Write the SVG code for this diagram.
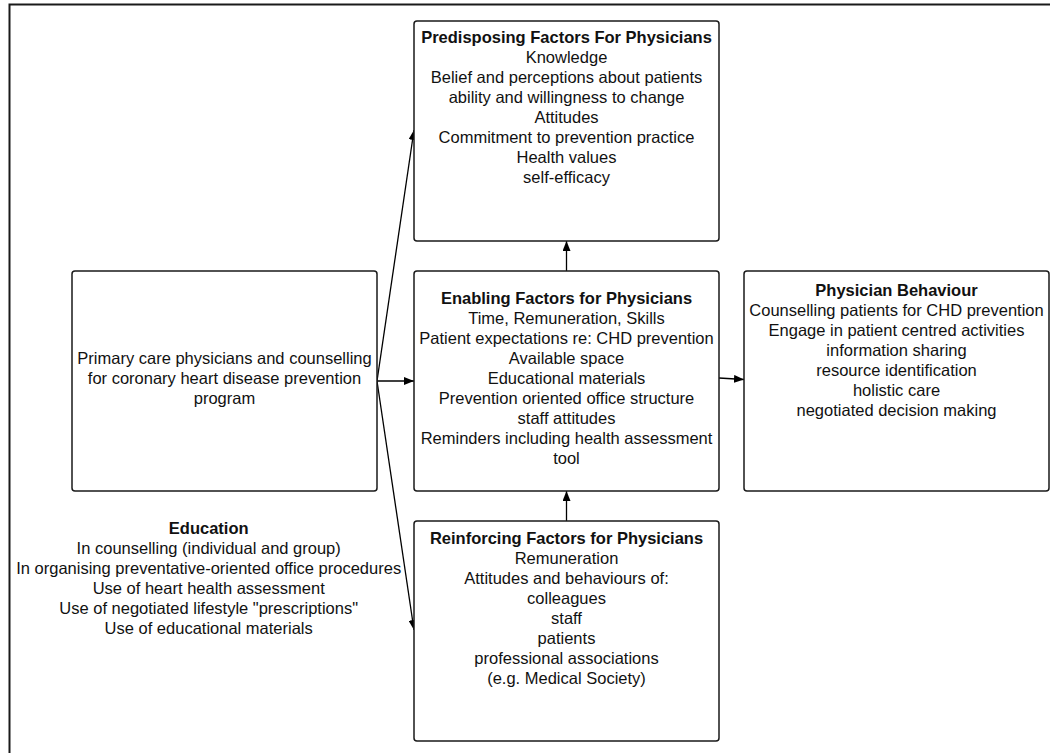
<svg xmlns="http://www.w3.org/2000/svg" width="1050" height="753" viewBox="0 0 1050 753">
  <style>
    .box { fill: #ffffff; stroke: #1a1a1a; stroke-width: 1.5; }
    .frame { fill: none; stroke: #1a1a1a; stroke-width: 2; }
    .edge { fill: none; stroke: #000000; stroke-width: 1.3; }
    text { font-family: "Liberation Sans", Arial, sans-serif; font-size: 16.5px; fill: #111111; text-anchor: middle; }
    .title { font-weight: bold; }
  </style>
  <defs>
    <marker id="arrow" viewBox="0 0 10 8" refX="10" refY="4" markerWidth="10" markerHeight="8" markerUnits="userSpaceOnUse" orient="auto">
      <path d="M0,0 L10,4 L0,8 Z" fill="#000000"/>
    </marker>
  </defs>

  <rect width="1050" height="753" fill="#ffffff"/>

  <!-- page frame (open at right and bottom) -->
  <path class="frame" d="M9.5,753 L9.5,4.5 L1050,4.5"/>

  <!-- connectors -->
  <g id="connectors">
    <line class="edge" x1="377" y1="381" x2="414" y2="130" marker-end="url(#arrow)"/>
    <line class="edge" x1="377" y1="381" x2="414" y2="381" marker-end="url(#arrow)"/>
    <line class="edge" x1="377" y1="381" x2="414" y2="630" marker-end="url(#arrow)"/>
    <line class="edge" x1="719" y1="378" x2="744" y2="379.5" marker-end="url(#arrow)"/>
    <line class="edge" x1="566.5" y1="271" x2="566.5" y2="241" marker-end="url(#arrow)"/>
    <line class="edge" x1="566.5" y1="521" x2="566.5" y2="491" marker-end="url(#arrow)"/>
  </g>

  <g id="program">
    <rect class="box" x="72" y="271" width="305" height="220" rx="3"/>
    <text x="224.5" y="364">Primary care physicians and counselling</text>
    <text x="224.5" y="384">for coronary heart disease prevention</text>
    <text x="224.5" y="404">program</text>
  </g>

  <g id="predisposing">
    <rect class="box" x="414" y="21" width="305" height="220" rx="3"/>
    <text class="title" x="566.5" y="43">Predisposing Factors For Physicians</text>
    <text x="566.5" y="63">Knowledge</text>
    <text x="566.5" y="83">Belief and perceptions about patients</text>
    <text x="566.5" y="103">ability and willingness to change</text>
    <text x="566.5" y="123">Attitudes</text>
    <text x="566.5" y="143">Commitment to prevention practice</text>
    <text x="566.5" y="163">Health values</text>
    <text x="566.5" y="183">self-efficacy</text>
  </g>

  <g id="enabling">
    <rect class="box" x="414" y="271" width="305" height="220" rx="3"/>
    <text class="title" x="566.5" y="304">Enabling Factors for Physicians</text>
    <text x="566.5" y="324">Time, Remuneration, Skills</text>
    <text x="566.5" y="344">Patient expectations re: CHD prevention</text>
    <text x="566.5" y="364">Available space</text>
    <text x="566.5" y="384">Educational materials</text>
    <text x="566.5" y="404">Prevention oriented office structure</text>
    <text x="566.5" y="424">staff attitudes</text>
    <text x="566.5" y="444">Reminders including health assessment</text>
    <text x="566.5" y="464">tool</text>
  </g>

  <g id="behaviour">
    <rect class="box" x="744" y="271" width="305" height="220" rx="3"/>
    <text class="title" x="896.5" y="296">Physician Behaviour</text>
    <text x="896.5" y="316">Counselling patients for CHD prevention</text>
    <text x="896.5" y="336">Engage in patient centred activities</text>
    <text x="896.5" y="356">information sharing</text>
    <text x="896.5" y="376">resource identification</text>
    <text x="896.5" y="396">holistic care</text>
    <text x="896.5" y="416">negotiated decision making</text>
  </g>

  <g id="reinforcing">
    <rect class="box" x="414" y="521" width="305" height="220" rx="3"/>
    <text class="title" x="566.5" y="544">Reinforcing Factors for Physicians</text>
    <text x="566.5" y="564">Remuneration</text>
    <text x="566.5" y="584">Attitudes and behaviours of:</text>
    <text x="566.5" y="604">colleagues</text>
    <text x="566.5" y="624">staff</text>
    <text x="566.5" y="644">patients</text>
    <text x="566.5" y="664">professional associations</text>
    <text x="566.5" y="684">(e.g. Medical Society)</text>
  </g>

  <g id="education">
    <text class="title" x="208.7" y="534">Education</text>
    <text x="208.7" y="554">In counselling (individual and group)</text>
    <text x="208.7" y="574">In organising preventative-oriented office procedures</text>
    <text x="208.7" y="594">Use of heart health assessment</text>
    <text x="208.7" y="614">Use of negotiated lifestyle "prescriptions"</text>
    <text x="208.7" y="634">Use of educational materials</text>
  </g>
</svg>
